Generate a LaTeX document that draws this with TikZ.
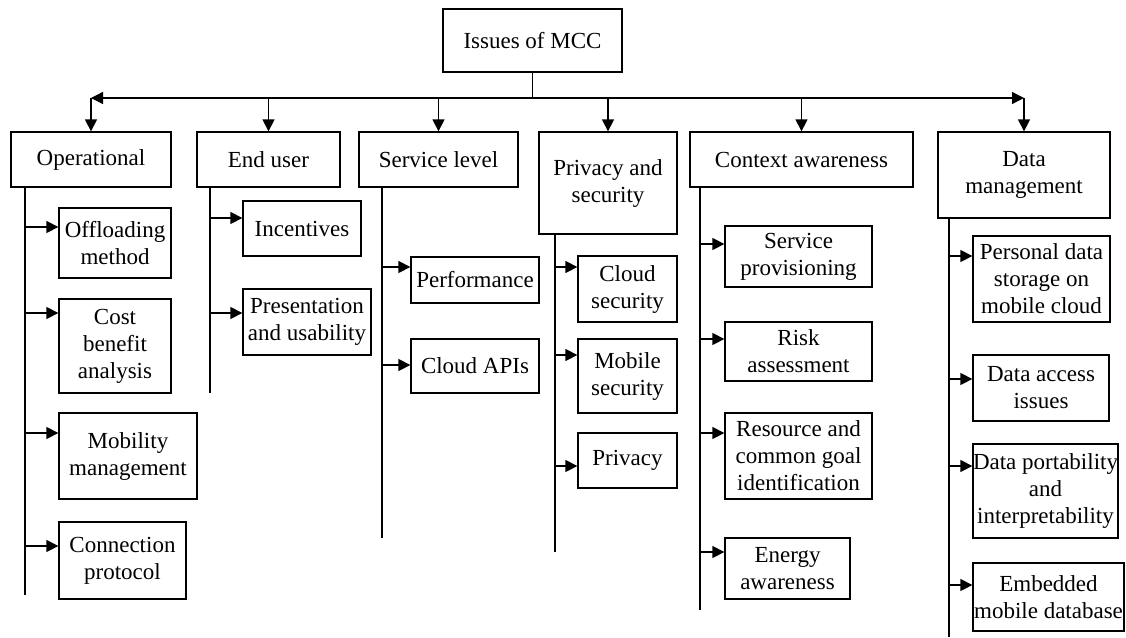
\documentclass[tikz,border=0pt]{standalone}
\usepackage{fontspec}
\setmainfont{Liberation Serif}
\usetikzlibrary{arrows.meta}
\tikzset{
  box/.style={draw, line width=1.3pt, inner sep=0pt, align=center,
    font=\fontsize{23}{27}\selectfont},
  ln/.style={line width=1.3pt},
  arr/.style={line width=1.3pt, -{Triangle[length=12pt,width=12pt]}}
}
\begin{document}
\begin{tikzpicture}[x=1pt,y=-1pt]
\useasboundingbox (0,0) rectangle (1126,637);
% root and level 1
\node[box, minimum width=179, minimum height=63] (root) at (532.5,40.5) {Issues of MCC};
\node[box, minimum width=160, minimum height=55] (op) at (91,159.5) {Operational};
\node[box, minimum width=143, minimum height=55] (eu) at (268.5,159.5) {End user};
\node[box, minimum width=159, minimum height=55] (sl) at (438.5,159.5) {Service level};
\node[box, minimum width=138, minimum height=102] (ps) at (608,183) {Privacy and\\security};
\node[box, minimum width=223, minimum height=55] (ca) at (801.5,159.5) {Context awareness};
\node[box, minimum width=172, minimum height=86] (dm) at (1024,175) {Data\\management};
% hub connectors
\coordinate (hub) at (root.south |- 0,98);
\draw[ln] (root.south) -- (hub);
\draw[arr] (hub) -- (op.north |- hub);
\draw[arr] (hub) -- (dm.north |- hub);
\foreach \n in {op,eu,sl,ps,ca,dm}{
  \draw[arr] (\n.north |- hub) -- (\n.north);
}
% Operational
\node[box, minimum width=112, minimum height=70] (off) at (115,243) {Offloading\\method};
\node[box, minimum width=112, minimum height=94] (cost) at (115,346) {Cost\\benefit\\analysis};
\node[box, minimum width=138, minimum height=86] (mob) at (128,456) {Mobility\\management};
\node[box, minimum width=127, minimum height=77] (con) at (122.5,560.5) {Connection\\protocol};
\coordinate (opT) at (op.south -| 25,0);
\draw[ln] (opT) -- (opT |- 0,595);
\draw[arr] (opT |- 0,227) -- (off.west |- 0,227);
\draw[arr] (opT |- 0,313) -- (cost.west |- 0,313);
\draw[arr] (opT |- 0,433) -- (mob.west |- 0,433);
\draw[arr] (opT |- 0,546) -- (con.west |- 0,546);
% End user
\node[box, minimum width=118, minimum height=55] (inc) at (302,228.5) {Incentives};
\node[box, minimum width=128, minimum height=66] (pres) at (307,322) {Presentation\\and usability};
\coordinate (euT) at (eu.south -| 210,0);
\draw[ln] (euT) -- (euT |- 0,393);
\draw[arr] (euT |- 0,218) -- (inc.west |- 0,218);
\draw[arr] (euT |- 0,313) -- (pres.west |- 0,313);
% Service level
\node[box, minimum width=128, minimum height=46] (perf) at (475,280) {Performance};
\node[box, minimum width=128, minimum height=54] (api) at (475,366) {Cloud APIs};
\coordinate (slT) at (sl.south -| 382,0);
\draw[ln] (slT) -- (slT |- 0,538);
\draw[arr] (slT |- 0,267) -- (perf.west |- 0,267);
\draw[arr] (slT |- 0,365) -- (api.west |- 0,365);
% Privacy and security
\node[box, minimum width=99, minimum height=66] (cs) at (627.5,289) {Cloud\\security};
\node[box, minimum width=99, minimum height=74] (ms) at (627.5,376) {Mobile\\security};
\node[box, minimum width=99, minimum height=55] (pv) at (627.5,460.5) {Privacy};
\coordinate (psT) at (ps.south -| 555,0);
\draw[ln] (psT) -- (psT |- 0,552);
\draw[arr] (psT |- 0,267) -- (cs.west |- 0,267);
\draw[arr] (psT |- 0,355) -- (ms.west |- 0,355);
\draw[arr] (psT |- 0,466) -- (pv.west |- 0,466);
% Context awareness
\node[box, minimum width=147, minimum height=61] (sp) at (798.5,256.5) {Service\\provisioning};
\node[box, minimum width=147, minimum height=59] (ra) at (798.5,351.5) {Risk\\assessment};
\node[box, minimum width=147, minimum height=86] (rc) at (798.5,456) {Resource and\\common goal\\identification};
\node[box, minimum width=125, minimum height=61] (ea) at (787.5,568.5) {Energy\\awareness};
\coordinate (caT) at (ca.south -| 700,0);
\draw[ln] (caT) -- (caT |- 0,610);
\draw[arr] (caT |- 0,244) -- (sp.west |- 0,244);
\draw[arr] (caT |- 0,339) -- (ra.west |- 0,339);
\draw[arr] (caT |- 0,433) -- (rc.west |- 0,433);
\draw[arr] (caT |- 0,552) -- (ea.west |- 0,552);
% Data management
\node[box, minimum width=137, minimum height=86] (pd) at (1041.5,279) {Personal data\\storage on\\mobile cloud};
\node[box, minimum width=136, minimum height=66] (da) at (1041,388) {Data access\\issues};
\node[box, minimum width=145, minimum height=94] (dp) at (1045.5,491) {Data portability\\and\\interpretability};
\node[box, minimum width=151, minimum height=68] (em) at (1048.5,597) {Embedded\\mobile database};
\coordinate (dmT) at (dm.south -| 949,0);
\draw[ln] (dmT) -- (dmT |- 0,637);
\draw[arr] (dmT |- 0,256) -- (pd.west |- 0,256);
\draw[arr] (dmT |- 0,379) -- (da.west |- 0,379);
\draw[arr] (dmT |- 0,466) -- (dp.west |- 0,466);
\draw[arr] (dmT |- 0,585) -- (em.west |- 0,585);
\end{tikzpicture}
\end{document}
